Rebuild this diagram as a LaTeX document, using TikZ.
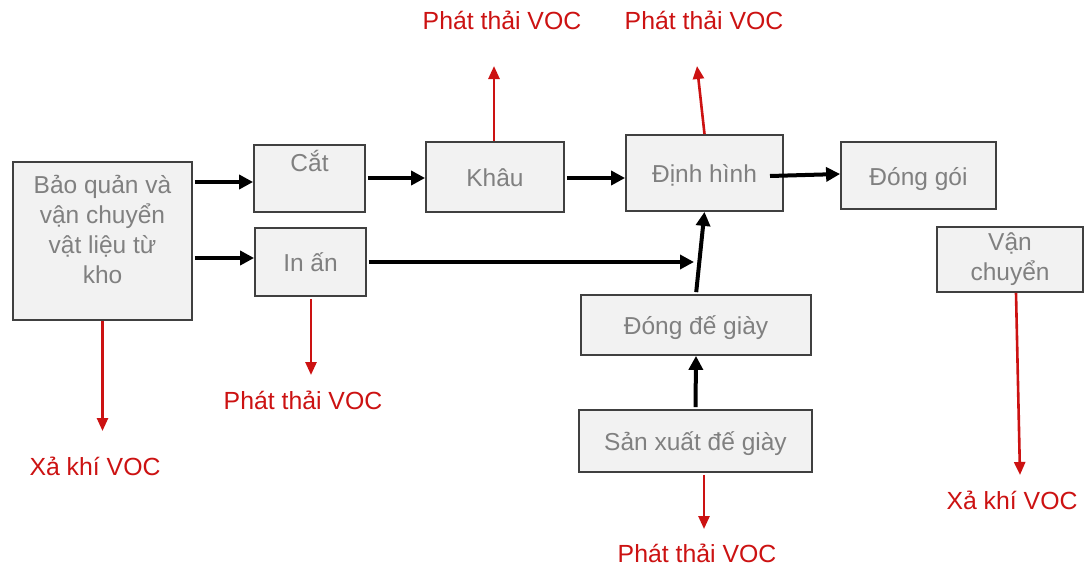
\documentclass[tikz,border=0pt]{standalone}
\usepackage{fontspec}
\setmainfont{Liberation Sans}
\usetikzlibrary{arrows.meta,calc}
\definecolor{boxfill}{RGB}{242,242,242}
\definecolor{boxline}{RGB}{64,64,64}
\definecolor{boxtxt}{RGB}{128,128,128}
\definecolor{vocred}{RGB}{204,18,18}
\tikzset{
  procbox/.style={draw=boxline,fill=boxfill,line width=1.8pt,inner sep=0pt,
    text=boxtxt,font=\fontsize{24.5}{30}\selectfont,align=center},
  oneline/.style={text height=25pt,text depth=6pt},
  boxtext/.style={text=boxtxt,font=\fontsize{24.5}{30}\selectfont,align=center,inner sep=0pt},
  voclabel/.style={text=vocred,font=\fontsize{24.8}{30}\selectfont,inner sep=0pt},
  blk/.style={line width=4pt,-{Triangle[length=14pt,width=14pt]}},
  redarr/.style={draw=vocred,line width=2.6pt,-{Triangle[length=13pt,width=11pt]}}
}
\begin{document}
\begin{tikzpicture}[x=1pt,y=-1pt]
\useasboundingbox[fill=white] (0,0) rectangle (1092,571);
% boxes
\node[procbox,minimum width=179pt,minimum height=158pt] (bq) at (102.5,241) {};
\node[boxtext,yshift=12pt] (bqt) at (bq.center) {Bảo quản và\\vận chuyển\\vật liệu từ\\kho};
\node[procbox,minimum width=111pt,minimum height=67pt,text height=17pt,text depth=32pt] (cat) at (309.5,178.5) {Cắt};
\node[procbox,oneline,minimum width=111pt,minimum height=68pt] (inan) at (310.5,262) {In ấn};
\node[procbox,oneline,minimum width=138pt,minimum height=70pt] (khau) at (495,177) {Khâu};
\node[procbox,oneline,minimum width=157pt,minimum height=76pt] (dinh) at (704.5,173) {Định hình};
\node[procbox,oneline,minimum width=155pt,minimum height=67pt] (donggoi) at (918.5,175.5) {Đóng gói};
\node[procbox,minimum width=146pt,minimum height=65pt] (vc) at (1010,259.5) {Vận\\chuyển};
\node[procbox,oneline,minimum width=230pt,minimum height=60pt] (dongde) at (696,325) {Đóng đế giày};
\node[procbox,oneline,minimum width=233pt,minimum height=62pt] (sx) at (695.5,441) {Sản xuất đế giày};
% free ends
\coordinate (inend) at (694,262);
\coordinate (dstart) at (770,176);
\coordinate (r1) at (102.5,431);
\coordinate (r2) at (311,375);
\coordinate (r3) at (494,66);
\coordinate (r4) at (697,66);
\coordinate (r5) at (704,529);
\coordinate (r6) at (1020,475);
% black arrows
\draw[blk,shorten <=2pt] (bq.east |- 0,182) -- (cat.west |- 0,182);
\draw[blk,shorten <=2pt] (bq.east |- 0,258) -- (inan.west |- 0,258);
\draw[blk,shorten <=2pt] (cat.east |- 0,178) -- (khau.west |- 0,178);
\draw[blk,shorten <=2pt] (khau.east |- 0,178) -- (dinh.west |- 0,178);
\draw[blk,shorten <=2pt] (inan.east |- 0,262) -- (inend);
\draw[blk,shorten <=2pt] (dongde.north) -- (dinh.south);
\draw[blk,shorten <=2pt] (sx.north) -- (dongde.south);
\draw[blk] (dstart) -- (donggoi.west |- 0,174);
% red arrows
\draw[redarr] (bq.south) -- (r1);
\draw[redarr,shorten <=2pt] (inan.south -| r2) -- (r2);
\draw[redarr] (khau.north -| r3) -- (r3);
\draw[redarr] (dinh.north) -- (r4);
\draw[redarr,shorten <=2pt] (sx.south -| r5) -- (r5);
\draw[redarr] (vc.south -| 1016,0) -- (r6);
% labels
\node[voclabel] (l1) at (95,466) {Xả khí VOC};
\node[voclabel] (l2) at (303,400) {Phát thải VOC};
\node[voclabel] (l3) at (502,20) {Phát thải VOC};
\node[voclabel] (l4) at (704,20) {Phát thải VOC};
\node[voclabel] (l5) at (697,553) {Phát thải VOC};
\node[voclabel] (l6) at (1012,500) {Xả khí VOC};
\end{tikzpicture}
\end{document}
